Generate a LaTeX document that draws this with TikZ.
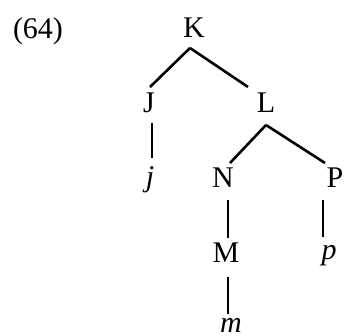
\documentclass[tikz,border=0pt]{standalone}
\usepackage{fontspec}
\setmainfont{Liberation Serif}
\usetikzlibrary{calc}
\begin{document}
\begin{tikzpicture}[x=1pt,y=-1pt,
  lbl/.style={anchor=base,inner sep=0pt,font=\fontsize{30}{34}\selectfont},
  edge/.style={line width=2.6pt}]
\useasboundingbox (0,0) rectangle (345,336);
\node[lbl] (num) at (38,39) {(64)};
\node[lbl] (K) at (194,38) {K};
\node[lbl] (J) at (149,113) {J};
\node[lbl] (L) at (266,113) {L};
\node[lbl] (j) at (150,187) {\itshape j};
\node[lbl] (N) at (223,188) {N};
\node[lbl] (P) at (335,188) {P};
\node[lbl] (M) at (226,263) {M};
\node[lbl] (p) at (329,260) {\itshape p};
\node[lbl] (m) at (231,332) {\itshape m};
\draw[edge] ($(K.base)+(-4,10)$) -- ($(J.base)+(1,-26)$);
\draw[edge] ($(K.base)+(-4,10)$) -- ($(L.base)+(-18,-26)$);
\draw[edge] ($(J.base)+(3,10)$) -- ($(j.base)+(2,-29)$);
\draw[edge] ($(L.base)+(0,12)$) -- ($(N.base)+(7,-25)$);
\draw[edge] ($(L.base)+(0,12)$) -- ($(P.base)+(-10,-25)$);
\draw[edge] ($(N.base)+(5,12)$) -- ($(M.base)+(2,-25)$);
\draw[edge] ($(P.base)+(-12,12)$) -- ($(p.base)+(-6,-23)$);
\draw[edge] ($(M.base)+(2,14)$) -- ($(m.base)+(-3,-18)$);
\end{tikzpicture}
\end{document}
